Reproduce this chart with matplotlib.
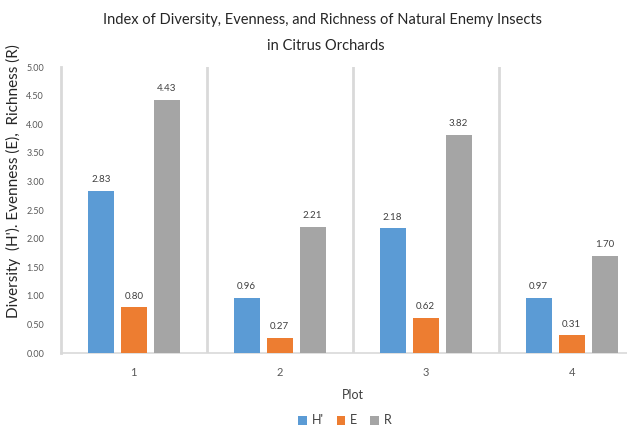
import numpy as np
import matplotlib.pyplot as plt

plots = ["1", "2", "3", "4"]
diversity = [2.83, 0.96, 2.18, 0.97]
evenness = [0.80, 0.27, 0.62, 0.31]
richness = [4.43, 2.21, 3.82, 1.70]
series_names = ["H'", "E", "R"]
colors = ["#5B9BD5", "#ED7D31", "#A5A5A5"]

plt.rcParams['font.family'] = ['Lato', 'DejaVu Sans']

fig = plt.figure(figsize=(6.27, 4.25), dpi=100)
ax = fig.add_axes([0.097, 0.169, 0.931, 0.673])

x = np.arange(len(plots))
width = 0.178
step = 0.226
for i, (vals, name, c) in enumerate(zip([diversity, evenness, richness], series_names, colors)):
    bars = ax.bar(x + (i - 1) * step, vals, width, color=c, label=name, zorder=3)
    for b, v in zip(bars, vals):
        ax.text(b.get_x() + b.get_width() / 2, v + 0.12, f"{v:.2f}",
                ha="center", va="bottom", fontsize=7, color="#404040")

ax.set_xlim(-0.5, 3.5)
ax.set_ylim(0, 5)
ax.set_yticks(np.arange(0, 5.01, 0.5))
ax.set_yticklabels([f"{t:.2f}" for t in np.arange(0, 5.01, 0.5)])
ax.set_xticks(x)
ax.set_xticklabels(plots)

# category separators
for s in [0.5, 1.5, 2.5]:
    ax.axvline(s, color="#D9D9D9", lw=2, zorder=1)

for side in ["top", "right"]:
    ax.spines[side].set_visible(False)
ax.spines["left"].set_color("#D9D9D9")
ax.spines["left"].set_linewidth(2)
ax.spines["bottom"].set_color("#D9D9D9")
ax.spines["bottom"].set_linewidth(1.2)
ax.tick_params(axis="both", length=0, colors="#595959")
ax.tick_params(axis="y", labelsize=6.5, pad=12)
ax.tick_params(axis="x", labelsize=8, pad=10)

ax.set_xlabel("Plot", fontsize=9, color="#404040", labelpad=8)
ax.set_ylabel("Diversity  (H'). Evenness (E),  Richness (R)", fontsize=11,
              color="#262626")
ax.yaxis.set_label_coords(-0.068, 0.6)

# two-line title
fig.text(0.515, 0.953, "Index of Diversity, Evenness, and Richness of Natural Enemy Insects",
         ha="center", va="center", fontsize=10.5, color="#262626")
fig.text(0.52, 0.892, "in Citrus Orchards",
         ha="center", va="center", fontsize=10.5, color="#262626")

fig.legend(loc="lower center", bbox_to_anchor=(0.55, -0.03), ncol=3, frameon=False,
           fontsize=9, handlelength=0.7, handleheight=0.7, handletextpad=0.4,
           columnspacing=1.0, labelcolor="#404040")

fig.savefig("out.png", dpi=100)
